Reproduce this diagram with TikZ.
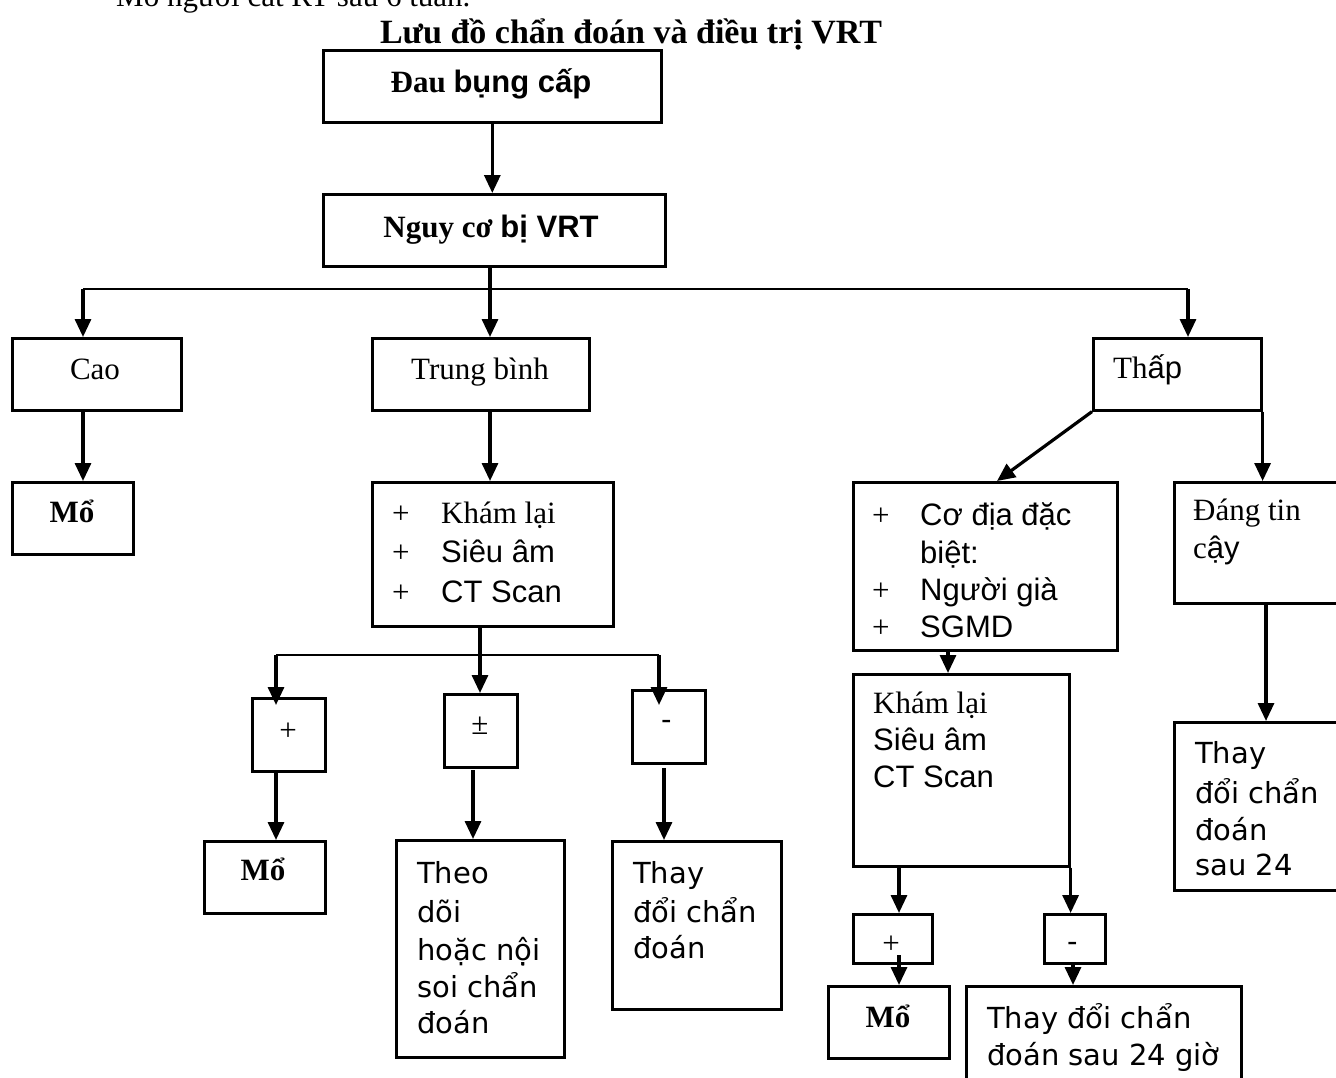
\documentclass[tikz,border=0pt]{standalone}
\usepackage{fontspec}
\setmainfont{Liberation Serif}
\newfontfamily\arial{Liberation Sans}
\newfontfamily\gothic{DejaVu Sans}
\usetikzlibrary{arrows.meta}

% one unit = 1pt, y axis pointing down
\newcommand\bx[5]{\node[box,minimum width=#4pt,minimum height=#5pt] (#1) at (#2,#3) {};}

\begin{document}
\begin{tikzpicture}[x=1pt,y=-1pt,
  box/.style={draw,line width=2.6pt,inner sep=0pt,anchor=north west},
  arr/.style={line width=3.2pt,-{Triangle[width=16pt,length=18pt]}},
  wire/.style={line width=2.6pt},
  rm/.style={inner sep=0pt,font=\fontsize{31}{31}\selectfont},
  sf/.style={inner sep=0pt,font=\arial\fontsize{31}{31}\selectfont},
  cg/.style={inner sep=0pt,font=\gothic\fontsize{29}{29}\selectfont},
  bw/.style={anchor=base west},
  bc/.style={anchor=base},
]
\useasboundingbox (0,0) rectangle (1336,1077);
\clip (0,0) rectangle (1336,1077);

% heading lines
\node[rm,bw] (prev) at (116,6) {Mổ người cắt RT sau 6 tuần.};
\node[rm,bc,font=\bfseries\fontsize{34}{34}\selectfont] (title) at (631,43) {Lưu đồ chẩn đoán và điều trị VRT};

% boxes: name, left, top, width, height
\bx{A}{322}{49}{338}{72}
\bx{B}{322}{193}{342}{72}
\bx{cao}{11}{337}{169}{72}
\bx{tb}{371}{337}{217}{72}
\bx{thap}{1092}{337}{168}{72}
\bx{mo1}{11}{481}{121}{72}
\bx{list}{371}{481}{241}{144}
\bx{cd}{852}{481}{264}{168}
\bx{dtc}{1173}{481}{180}{121}
\bx{plus}{251}{697}{73}{73}
\bx{pm}{443}{693}{73}{73}
\bx{minus}{631}{689}{73}{73}
\bx{mo2}{203}{840}{121}{72}
\bx{theo}{395}{839}{168}{217}
\bx{thay1}{611}{840}{169}{168}
\bx{recheck}{852}{673}{216}{192}
\bx{thay2}{1173}{721}{180}{168}
\bx{plus2}{852}{913}{79}{49}
\bx{minus2}{1043}{913}{61}{49}
\bx{mo3}{827}{985}{121}{72}
\bx{thay3}{965}{985}{275}{110}

% texts
\node[rm,bc] (tA) at (491,92) {\bfseries Đau {\arial bụng cấp}};
\node[rm,bc] (tB) at (491,237) {\bfseries Nguy cơ {\arial bị VRT}};
\node[rm,bc] (tcao) at (95,379) {Cao};
\node[rm,bc] (ttb) at (480,379) {Trung bình};
\node[rm,bw] (tthap) at (1113,378) {Th{\arial ấp}};
\node[rm,bc] (tmo1) at (72,522) {\bfseries Mổ};

\node[rm,bw] (l1p) at (392,523) {+};
\node[rm,bw] (l1) at (441,523) {Khám lại};
\node[rm,bw] (l2p) at (392,562) {+};
\node[sf,bw] (l2) at (441,562) {Siêu âm};
\node[rm,bw] (l3p) at (392,602) {+};
\node[sf,bw] (l3) at (441,602) {CT Scan};

\node[rm] (tplus) at (288,732) {+};
\node[rm] (tpm) at (480,726) {±};
\node[cg] (tminus) at (667,725) {-};

\node[rm,bc] (tmo2) at (263,880) {\bfseries Mổ};
\node[cg,bw] (th1) at (417,883) {Theo};
\node[cg,bw] (th2) at (417,922) {dõi};
\node[cg,bw] (th3) at (417,960) {hoặc nội};
\node[cg,bw] (th4) at (417,997) {soi chẩn};
\node[cg,bw] (th5) at (417,1033) {đoán};

\node[cg,bw] (ty1) at (633,883) {Thay};
\node[cg,bw] (ty2) at (633,922) {đổi chẩn};
\node[cg,bw] (ty3) at (633,958) {đoán};

\node[rm,bw] (c1p) at (872,525) {+};
\node[sf,bw] (c1) at (920,525) {Cơ địa đặc};
\node[sf,bw] (c2) at (920,563) {biệt:};
\node[rm,bw] (c3p) at (872,600) {+};
\node[sf,bw] (c3) at (920,600) {Người già};
\node[rm,bw] (c4p) at (872,637) {+};
\node[sf,bw] (c4) at (920,637) {SGMD};

\node[rm,bw] (d1) at (1193,520) {Đáng tin};
\node[rm,bw] (d2) at (1193,558) {c{\arial ậy}};

\node[rm,bw] (r1) at (873,713) {Khám lại};
\node[sf,bw] (r2) at (873,750) {Siêu âm};
\node[sf,bw] (r3) at (873,787) {CT Scan};

\node[cg,bw] (s1) at (1195,763) {Thay};
\node[cg,bw] (s2) at (1195,803) {đổi chẩn};
\node[cg,bw] (s3) at (1195,840) {đoán};
\node[cg,bw] (s4) at (1195,875) {sau 24};

\node[rm] (tplus2) at (891,945) {+};
\node[cg] (tminus2) at (1073,947) {-};
\node[rm,bc] (tmo3) at (888,1027) {\bfseries Mổ};
\node[cg,bw] (u1) at (987,1028) {Thay đổi chẩn};
\node[cg,bw] (u2) at (987,1065) {đoán sau 24 giờ};

% branch points and exits
\coordinate (j) at (490,289);
\coordinate (jl) at (83,289);
\coordinate (jr) at (1188,289);
\coordinate (k) at (480,655);
\coordinate (kL) at (276,655);
\coordinate (kR) at (659,655);
\coordinate (pmo) at (473,770);
\coordinate (mno) at (664,768);
\coordinate (cdin) at (997,481);
\coordinate (cdo) at (948,649);
\coordinate (dto) at (1266,602);
\coordinate (rco) at (899,865);
\coordinate (p2o) at (899,955);
\coordinate (m2o) at (1073,962);

% connectors
\draw[arr] (A.south) -- (A.south |- B.north);
\draw[arr] (j |- B.south) -- (j |- tb.north);
\draw[wire] (jl) -- (jr);
\draw[arr] (jl) -- (jl |- cao.north);
\draw[arr] (jr) -- (jr |- thap.north);
\draw[arr] (jl |- cao.south) -- (jl |- mo1.north);
\draw[arr] (j |- tb.south) -- (j |- list.north);

\draw[arr] (k |- list.south) -- (k |- pm.north);
\draw[wire] (kL) -- (kR);
\draw[arr,shorten >=-8pt] (kL) -- (kL |- plus.north);
\draw[arr,shorten >=-16pt] (kR) -- (kR |- minus.north);
\draw[arr] (kL |- plus.south) -- (kL |- mo2.north);
\draw[arr] (pmo) -- (pmo |- theo.north);
\draw[arr] (mno) -- (mno |- thay1.north);

\draw[arr] (thap.south west) -- (cdin);
\draw[arr] (thap.south east) -- (thap.south east |- dtc.north);
\draw[arr] (cdo) -- (cdo |- recheck.north);
\draw[arr] (dto) -- (dto |- thay2.north);
\draw[arr] (rco) -- (rco |- plus2.north);
\draw[arr] (recheck.south east) -- (recheck.south east |- minus2.north);
\draw[arr] (p2o) -- (p2o |- mo3.north);
\draw[arr] (m2o) -- (m2o |- thay3.north);
\end{tikzpicture}
\end{document}
